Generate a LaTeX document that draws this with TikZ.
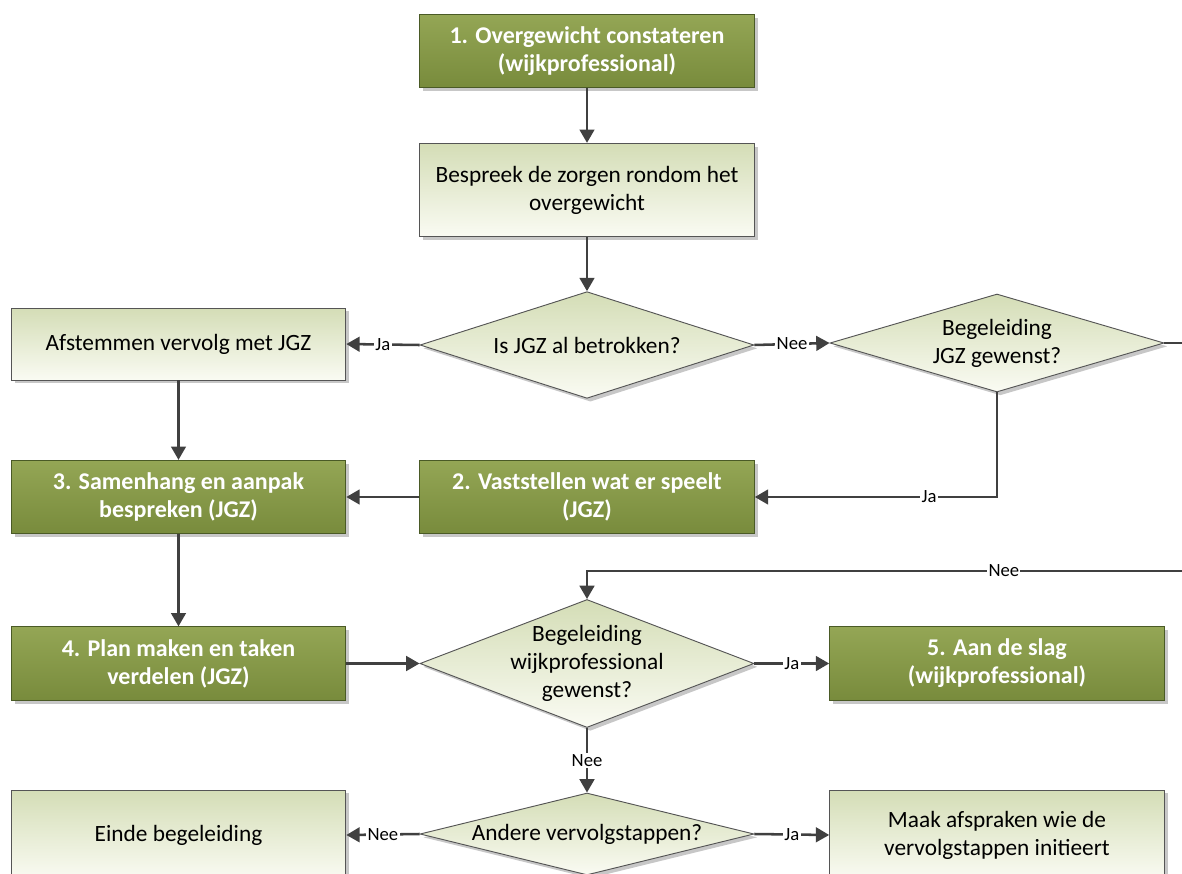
\documentclass[tikz,border=0pt]{standalone}
\usepackage{fontspec}
\setmainfont{Carlito}
\usetikzlibrary{shapes.geometric,arrows.meta,shadows}
\definecolor{dkfillA}{HTML}{94A655}
\definecolor{dkfillB}{HTML}{788B3C}
\definecolor{dkline}{HTML}{4A5A26}
\definecolor{ltfillA}{HTML}{D4DDB6}
\definecolor{ltfillB}{HTML}{FAFBF3}
\definecolor{ltline}{HTML}{555555}
\definecolor{connc}{HTML}{404040}
\begin{document}
\begin{tikzpicture}[x=0.75pt,y=-0.75pt,
  txt/.style={font=\fontsize{17.5}{21}\selectfont},
  base/.style={txt, draw, line width=0.7pt, align=center, inner sep=2pt,
    drop shadow={shadow xshift=2.5pt, shadow yshift=-2.5pt, opacity=0.22, fill=black}},
  darkbox/.style={base, rectangle, draw=dkline, top color=dkfillA, bottom color=dkfillB,
    text=white, font=\fontsize{18}{21}\selectfont\bfseries, minimum width=251pt, minimum height=55pt},
  lightbox/.style={base, rectangle, draw=ltline, top color=ltfillA, bottom color=ltfillB,
    text=black, minimum width=251pt, minimum height=55pt},
  decision/.style={base, diamond, draw=ltline, top color=ltfillA, bottom color=ltfillB,
    text=black, inner sep=0pt, minimum width=250.5pt},
  dtext/.style={align=center, text=black, font=\fontsize{17.5}{21}\selectfont},
  arr/.style={draw=connc, line width=1.9pt, -{Triangle[length=10pt,width=11pt]}},
  lbl/.style={fill=white, inner sep=1pt, text=black, font=\fontsize{14}{16}\selectfont}
]
\useasboundingbox (0,0) rectangle (1182,874);

\node[darkbox] (b1) at (587,51) {1. Overgewicht constateren\\(wijkprofessional)};
\node[lightbox, minimum height=70pt] (bes) at (587,190) {Bespreek de zorgen rondom het\\overgewicht};
\node[decision, minimum height=80pt, label={[dtext]center:Is JGZ al betrokken?}] (d1) at (587,345) {};
\node[lightbox, minimum height=54pt] (afs) at (178.5,344) {Afstemmen vervolg met JGZ};
\node[decision, minimum height=73.5pt, label={[dtext]center:{Begeleiding\\JGZ gewenst?}}] (d2) at (997,343) {};
\node[darkbox] (b2) at (587,497) {2. Vaststellen wat er speelt\\(JGZ)};
\node[darkbox] (b3) at (178.5,497) {3. Samenhang en aanpak\\bespreken (JGZ)};
\node[darkbox] (b4) at (178.5,663.5) {4. Plan maken en taken\\verdelen (JGZ)};
\node[decision, minimum height=96pt, label={[dtext]center:{Begeleiding\\wijkprofessional\\gewenst?}}] (d3) at (587,663.5) {};
\node[darkbox] (b5) at (997,663.5) {5. Aan de slag\\(wijkprofessional)};
\node[decision, minimum height=61.5pt, label={[dtext]center:Andere vervolgstappen?}] (d4) at (587,834) {};
\node[lightbox, minimum height=67.5pt] (einde) at (178.5,835) {Einde begeleiding};
\node[lightbox, minimum height=67.5pt] (maak) at (997,835) {Maak afspraken wie de\\vervolgstappen initieert};

\coordinate (r1) at (1200,343);
\coordinate (r2) at (1200,571);
\coordinate (r3) at (587,571);

\draw[arr] (b1) -- (bes);
\draw[arr] (bes) -- (d1);
\draw[arr] (d1.west) -- node[lbl]{Ja} (afs.east);
\draw[arr] (d1.east) -- node[lbl]{Nee} (d2.west);
\draw[arr] (d2.east) -- (r1) -- (r2) -- node[lbl, pos=0.32]{Nee} (r3) -- (d3.north);
\draw[arr] (d2.south) |- node[lbl, pos=0.64]{Ja} (b2.east);
\draw[arr] (afs) -- (b3);
\draw[arr] (b2) -- (b3);
\draw[arr] (b3) -- (b4);
\draw[arr] (b4.east) -- (d3.west);
\draw[arr] (d3.east) -- node[lbl]{Ja} (b5.west);
\draw[arr] (d3.south) -- node[lbl]{Nee} (d4.north);
\draw[arr] (d4.west) -- node[lbl]{Nee} (einde.east);
\draw[arr] (d4.east) -- node[lbl]{Ja} (maak.west);
\end{tikzpicture}
\end{document}
